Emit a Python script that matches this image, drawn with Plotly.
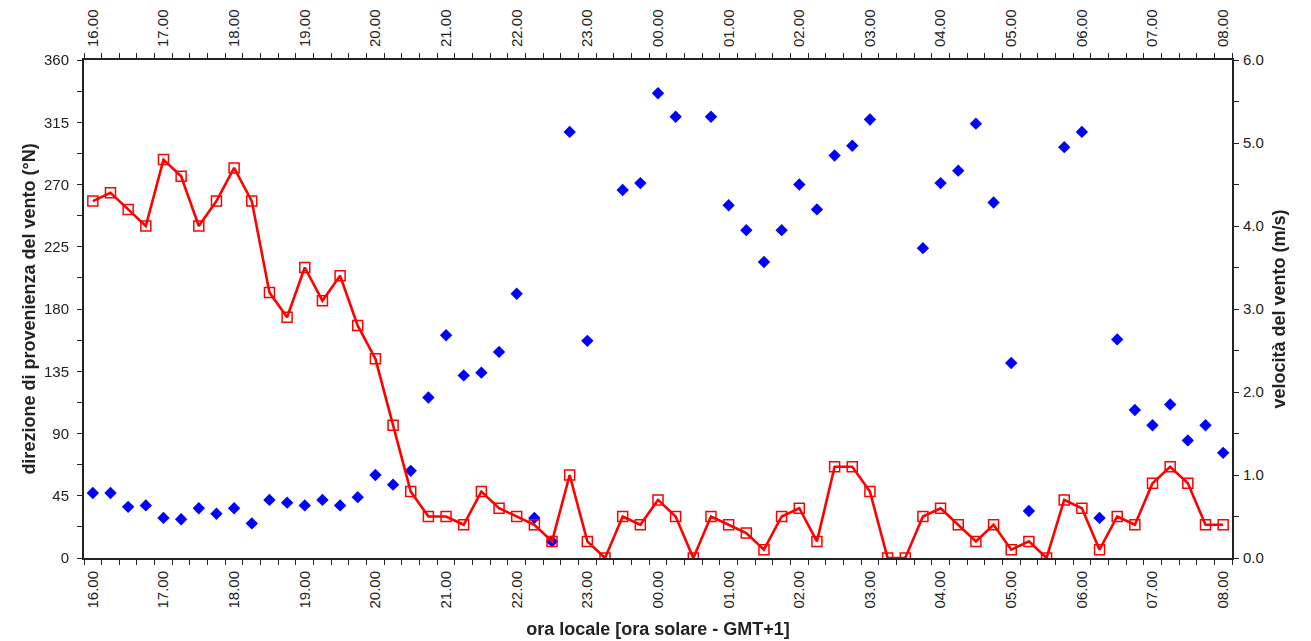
import plotly.graph_objects as go

# 15-minute time slots from 16.00 to 08.00 (next day)
times = [
    "16.00", "16.15", "16.30", "16.45", "17.00", "17.15", "17.30", "17.45",
    "18.00", "18.15", "18.30", "18.45", "19.00", "19.15", "19.30", "19.45",
    "20.00", "20.15", "20.30", "20.45", "21.00", "21.15", "21.30", "21.45",
    "22.00", "22.15", "22.30", "22.45", "23.00", "23.15", "23.30", "23.45",
    "00.00", "00.15", "00.30", "00.45", "01.00", "01.15", "01.30", "01.45",
    "02.00", "02.15", "02.30", "02.45", "03.00", "03.15", "03.30", "03.45",
    "04.00", "04.15", "04.30", "04.45", "05.00", "05.15", "05.30", "05.45",
    "06.00", "06.15", "06.30", "06.45", "07.00", "07.15", "07.30", "07.45",
    "08.00",
]

# wind direction (°N), None where speed is zero
direction = [
    47, 47, 37, 38, 29, 28, 36, 32,
    36, 25, 42, 40, 38, 42, 38, 44,
    60, 53, 63, 116, 161, 132, 134, 149,
    191, 29, 12, 308, 157, None, 266, 271,
    336, 319, None, 319, 255, 237, 214, 237,
    270, 252, 291, 298, 317, None, None, 224,
    271, 280, 314, 257, 141, 34, None, 297,
    308, 29, 158, 107, 96, 111, 85, 96,
    76,
]

# wind speed (m/s)
speed = [
    4.3, 4.4, 4.2, 4.0, 4.8, 4.6, 4.0, 4.3,
    4.7, 4.3, 3.2, 2.9, 3.5, 3.1, 3.4, 2.8,
    2.4, 1.6, 0.8, 0.5, 0.5, 0.4, 0.8, 0.6,
    0.5, 0.4, 0.2, 1.0, 0.2, 0.0, 0.5, 0.4,
    0.7, 0.5, 0.0, 0.5, 0.4, 0.3, 0.1, 0.5,
    0.6, 0.2, 1.1, 1.1, 0.8, 0.0, 0.0, 0.5,
    0.6, 0.4, 0.2, 0.4, 0.1, 0.2, 0.0, 0.7,
    0.6, 0.1, 0.5, 0.4, 0.9, 1.1, 0.9, 0.4,
    0.4,
]

hour_labels = ["16.00", "17.00", "18.00", "19.00", "20.00", "21.00", "22.00",
               "23.00", "00.00", "01.00", "02.00", "03.00", "04.00", "05.00",
               "06.00", "07.00", "08.00"]

dir_ticks = [0, 45, 90, 135, 180, 225, 270, 315, 360]
speed_ticks = [0, 1, 2, 3, 4, 5, 6]
speed_ticktext = ["0.0", "1.0", "2.0", "3.0", "4.0", "5.0", "6.0"]

x = list(range(len(times)))
label_pos = [times.index(h) for h in hour_labels]

FONT = "Liberation Sans, Arial, sans-serif"
AX = "#222222"
TICKSZ = 15
TITLESZ = 18

fig = go.Figure()
fig.add_trace(go.Scatter(
    x=x, y=direction, mode="markers", name="direzione",
    marker=dict(symbol="diamond", size=9.5, color="#0000ff", line=dict(width=0)),
    yaxis="y", xaxis="x",
))
fig.add_trace(go.Scatter(
    x=x, y=speed, mode="lines+markers", name="velocità",
    line=dict(color="#ff0000", width=2.6),
    marker=dict(symbol="square-open", size=10, color="#ff0000", line=dict(width=1.5, color="#ff0000")),
    yaxis="y2", xaxis="x",
))
# invisible companion trace so the top time axis is drawn
fig.add_trace(go.Scatter(
    x=x, y=speed, mode="markers", opacity=0, hoverinfo="skip",
    marker=dict(size=1), yaxis="y2", xaxis="x2", showlegend=False,
))

xcommon = dict(
    range=[-0.5, len(times) - 0.5], autorange=False, automargin=False,
    tickmode="array", tickvals=label_pos, ticktext=hour_labels,
    tickangle=-90, ticks="", showgrid=False, zeroline=False,
    showline=True, linecolor=AX, linewidth=2,
    tickfont=dict(family=FONT, size=TICKSZ, color=AX),
    minor=dict(tickmode="linear", tick0=-0.5, dtick=1, ticks="outside",
               ticklen=5, tickwidth=1, tickcolor=AX, showgrid=False),
)

fig.update_layout(
    width=1311, height=641,
    margin=dict(l=76, r=87, t=52, b=91),
    paper_bgcolor="white", plot_bgcolor="white",
    showlegend=False,
    font=dict(family=FONT, color=AX),
    xaxis=dict(**xcommon, ticklabelstandoff=5,
               title=dict(text="<b>ora locale [ora solare - GMT+1]</b>",
                          font=dict(family=FONT, size=TITLESZ, color=AX), standoff=15)),
    xaxis2=dict(**xcommon, ticklabelstandoff=8, overlaying="x", side="top", anchor="y"),
    yaxis=dict(
        range=[0, 360], autorange=False, automargin=False,
        tickmode="array", tickvals=dir_ticks,
        ticks="outside", ticklen=5, tickwidth=1, tickcolor=AX,
        ticklabelstandoff=5,
        showgrid=False, zeroline=False, showline=True, linecolor=AX, linewidth=2,
        tickfont=dict(family=FONT, size=TICKSZ, color=AX),
        minor=dict(tickmode="linear", tick0=0, dtick=22.5, ticks="outside",
                   ticklen=5, tickwidth=1, tickcolor=AX, showgrid=False),
        title=dict(text="<b>direzione di provenienza del vento (°N)</b>",
                   font=dict(family=FONT, size=TITLESZ, color=AX), standoff=4),
    ),
    yaxis2=dict(
        range=[0, 6], autorange=False, automargin=False,
        overlaying="y", side="right", anchor="x",
        tickmode="array", tickvals=speed_ticks, ticktext=speed_ticktext,
        ticks="outside", ticklen=5, tickwidth=1, tickcolor=AX,
        ticklabelstandoff=1,
        showgrid=False, zeroline=False, showline=True, linecolor=AX, linewidth=2,
        tickfont=dict(family=FONT, size=TICKSZ, color=AX),
        minor=dict(tickmode="linear", tick0=0, dtick=0.5, ticks="outside",
                   ticklen=5, tickwidth=1, tickcolor=AX, showgrid=False),
        title=dict(text="<b>velocità del vento (m/s)</b>",
                   font=dict(family=FONT, size=TITLESZ, color=AX), standoff=10),
    ),
)

fig.write_html("out.html")
